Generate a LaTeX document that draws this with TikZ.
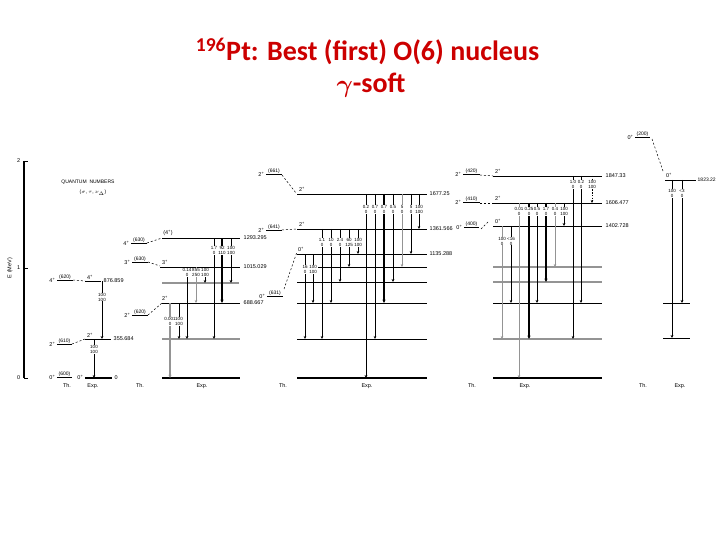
\documentclass[tikz,border=0pt]{standalone}
\usepackage{amsmath}
\usepackage{fontspec}
\setmainfont{Liberation Sans}
\newfontfamily\titlefont{Carlito}
\usetikzlibrary{arrows.meta}
\definecolor{titlered}{RGB}{204,0,0}
\definecolor{glev}{gray}{0.58}
\tikzset{
 lev/.style={line width=0.8pt},
 glevel/.style={line width=1.1pt, draw=glev},
 gsl/.style={line width=2pt},
 thl/.style={line width=0.6pt},
 dsh/.style={dash pattern=on 2pt off 2pt, line width=0.5pt},
 tA/.style={line width=0.5pt, -{Stealth[length=3pt,width=2.6pt]}},
 tB/.style={line width=0.8pt, -{Stealth[length=3pt,width=2.8pt]}},
 tC/.style={line width=1.3pt, -{Stealth[length=3.4pt,width=3.2pt]}},
 tG/.style={line width=0.6pt, draw=glev, -{Stealth[length=3pt,width=2.6pt]}},
 tGC/.style={line width=1.1pt, draw=glev, -{Stealth[length=3.2pt,width=3pt]}},
 tD/.style={line width=0.5pt, dash pattern=on 1.5pt off 1.2pt, -{Stealth[length=3pt,width=2.6pt]}},
 tlab/.style={font=\fontsize{4.5}{5}\selectfont, fill=white, inner sep=0.2pt, align=center},
 elab/.style={font=\fontsize{5.5}{6}\selectfont, anchor=west, inner sep=0.5pt},
 spin/.style={font=\fontsize{5.5}{6}\selectfont, inner sep=0.5pt},
 qnl/.style={font=\fontsize{5}{6}\selectfont, inner sep=0.6pt},
 capl/.style={font=\fontsize{5.5}{6}\selectfont, inner sep=0.5pt},
 ttl/.style={font=\titlefont\bfseries\fontsize{28}{34}\selectfont, text=titlered, anchor=base, inner sep=0pt},
}
\newcommand{\thlev}[6]{%
  \draw[thl] (#1,#3) -- (#2,#3);
  \node[qnl,anchor=south] (q#6) at ({(#1+#2)/2},#3) {#5};
  \node[spin,anchor=east] (s#6) at (#1-1,#3) {#4};}
\newcommand{\trn}[7]{%
  \draw[#4] (#1,#2) -- (#1,#3);
  \node[tlab] (l#1) at (#1,#5) {#6\\#7};}
\newcommand{\pl}{\textsuperscript{+}}
\begin{document}
\begin{tikzpicture}[x=1pt,y=-1pt]
\useasboundingbox (0,0) rectangle (720,540);
% title
\node[ttl] (title1) at (367.5,61) {\textsuperscript{196}Pt: Best (first) O(6) nucleus};
\node[ttl] (title2) at (371,93) {$\boldsymbol{\gamma}$-soft};
% axis
\draw[line width=2pt] (24,161) -- (24,378);
\foreach \yy/\tt in {161/2,268/1,378/0}{
  \draw[line width=0.8pt] (24,\yy) -- (28,\yy);
  \node[capl,anchor=east] (ax\tt) at (21,\yy) {\tt};}
\node[capl,rotate=90] (elabel) at (10,268) {E (MeV)};
\node[qnl] (qn1) at (88,182) {QUANTUM\ \ NUMBERS};
\node[qnl] (qn2) at (93,193) {($\sigma$, $\tau$, $\nu_\Delta$)};
% ---------------- column 1
\thlev{57}{73}{280}{4\pl}{(620)}{a1}
\draw[dsh] (73,280) -- (85,281);
\draw[lev] (85,281) -- (101,281);
\node[spin,anchor=south] (x1) at (90,280) {4\pl};
\node[elab] (e1) at (103,281) {876.859};
\thlev{57}{72}{344}{2\pl}{(610)}{a2}
\draw[dsh] (72,344) -- (85,339);
\draw[lev] (85,339) -- (111,339);
\node[spin,anchor=south] (x2) at (90,338) {2\pl};
\node[elab] (e2) at (113,339) {355.684};
\thlev{57}{72}{377}{0\pl}{(600)}{a3}
\node[spin,anchor=east] (x3) at (84,377) {0\pl};
\draw[gsl] (85,378) -- (112,378);
\node[elab] (e3) at (114,378) {0};
\trn{102}{281}{339}{tB}{297}{100}{100}
\trn{94}{339}{378}{tA}{349.5}{100}{100}
% ---------------- column 2
\thlev{131}{147}{243}{4\pl}{(630)}{b1}
\draw[dsh] (147,243) -- (162,238);
\draw[lev] (162,238) -- (240,238);
\node[spin,anchor=south] (x4) at (168,236) {(4\pl)};
\node[elab] (e4) at (243,238) {1293.295};
\thlev{132}{148}{262}{3\pl}{(630)}{b2}
\draw[dsh] (148,262) -- (160,266);
\draw[lev] (160,267) -- (240,267);
\node[spin,anchor=south] (x5) at (165,265) {3\pl};
\node[elab] (e5) at (243,267) {1015.029};
\draw[glevel] (162,283) -- (239,283);
\thlev{132}{148}{315}{2\pl}{(620)}{b3}
\draw[dsh] (148,315) -- (162,303);
\draw[lev] (162,303) -- (240,303);
\node[spin,anchor=south] (x6) at (165,301) {2\pl};
\node[elab] (e6) at (243,303) {688.667};
\draw[glevel] (162,339) -- (240,339);
\draw[gsl] (162,378) -- (240,378);
\trn{214}{238}{339}{tA}{250.5}{1.7}{0}
\trn{222}{238}{303}{tC}{250.5}{92}{110}
\trn{231}{238}{283}{tB}{250.5}{100}{100}
\trn{187}{267}{339}{tB}{272.5}{0.14}{0}
\trn{196}{267}{303}{tG}{272.5}{855}{250}
\trn{205}{267}{283}{tA}{272.5}{100}{100}
\trn{170}{303}{378}{tGC}{321.5}{0.001}{0}
\trn{179}{303}{339}{tA}{321.5}{100}{100}
% ---------------- column 3
\thlev{266}{282}{174}{2\pl}{(661)}{c1}
\draw[dsh] (282,175) -- (296,193);
\draw[lev] (297,194) -- (427,194);
\node[spin,anchor=south] (x7) at (302,192) {2\pl};
\node[elab] (e7) at (429,194) {1677.25};
\thlev{266}{282}{230}{2\pl}{(641)}{c2}
\draw[dsh] (282,230) -- (297,229);
\draw[lev] (297,229) -- (427,229);
\node[spin,anchor=south] (x8) at (302,227) {2\pl};
\node[elab] (e8) at (429,229) {1361.566};
\thlev{267}{283}{296}{0\pl}{(631)}{c3}
\draw[dsh] (284,289) -- (297,252);
\draw[lev] (297,254) -- (427,254);
\node[spin,anchor=south] (x9) at (301,252) {0\pl};
\node[elab] (e9) at (429,254) {1135.288};
\draw[lev] (318,267) -- (427,267);
\draw[lev] (297,282) -- (427,282);
\draw[lev] (297,303) -- (427,303);
\draw[lev] (297,339) -- (427,339);
\draw[gsl] (297,378) -- (427,378);
\trn{366}{194}{378}{tB}{209.5}{0.2}{0}
\trn{375}{194}{339}{tA}{209.5}{0.7}{0}
\trn{384}{194}{303}{tC}{209.5}{0.7}{0}
\trn{393}{194}{282}{tB}{209.5}{0.5}{0}
\trn{402}{194}{267}{tG}{209.5}{5}{0}
\trn{411}{194}{254}{tA}{209.5}{5}{0}
\trn{419}{194}{229}{tA}{209.5}{100}{100}
\trn{322}{229}{339}{tA}{242.5}{1.1}{0}
\trn{331}{229}{303}{tA}{242.5}{10}{0}
\trn{340}{229}{282}{tA}{242.5}{2.4}{0}
\trn{349}{229}{267}{tA}{242.5}{60}{125}
\trn{358}{229}{254}{tA}{242.5}{100}{100}
\trn{305}{254}{339}{tA}{269.5}{16}{0}
\trn{313}{254}{303}{tA}{269.5}{100}{100}
% ---------------- column 4
\thlev{463}{480}{174}{2\pl}{(420)}{d1}
\draw[dsh] (480,175) -- (493,176);
\draw[lev] (493,176) -- (602,176);
\node[spin,anchor=south] (x10) at (498,174) {2\pl};
\node[elab] (e10) at (605,176) {1847.33};
\thlev{463}{480}{202}{2\pl}{(410)}{d2}
\draw[dsh] (480,203) -- (493,203);
\draw[lev] (493,203) -- (602,203);
\node[spin,anchor=south] (x11) at (498,201) {2\pl};
\node[elab] (e11) at (605,203) {1606.477};
\thlev{464}{479}{227}{0\pl}{(400)}{d3}
\draw[dsh] (481,229) -- (488,222);
\draw[lev] (493,226) -- (602,226);
\node[spin,anchor=south] (x12) at (498,224) {0\pl};
\node[elab] (e12) at (605,226) {1402.728};
\draw[glevel] (493,267) -- (602,267);
\draw[glevel] (493,282) -- (602,282);
\draw[lev] (493,303) -- (602,303);
\draw[glevel] (493,339) -- (602,339);
\draw[gsl] (493,378) -- (602,378);
\trn{573}{176}{339}{tA}{184.5}{1.0}{0}
\trn{581}{176}{303}{tA}{184.5}{0.2}{0}
\trn{592}{176}{203}{tD}{184.5}{100}{100}
\trn{519}{203}{378}{tG}{211.5}{0.01}{0}
\trn{529}{203}{339}{tC}{211.5}{0.25}{0}
\trn{537}{203}{303}{tB}{211.5}{0.5}{0}
\trn{546}{203}{282}{tC}{211.5}{1.7}{0}
\trn{555}{203}{267}{tG}{211.5}{0.4}{0}
\trn{564}{203}{226}{tB}{211.5}{100}{100}
\trn{502}{226}{339}{tG}{241}{100}{0}
\trn{511}{226}{303}{tA}{241}{<16}{0}
% ---------------- column 5
\thlev{635}{650}{137}{0\pl}{(200)}{f1}
\draw[dsh] (652,139) -- (663,171);
\draw[lev] (665,180) -- (696,180);
\node[elab,font=\fontsize{5}{6}\selectfont] (e13) at (697,180) {1823.22};
\node[spin,anchor=south] (x13) at (669,178) {0\pl};
\draw[lev] (663,303) -- (690,303);
\draw[lev] (663,338) -- (690,338);
\trn{672}{180}{338}{tB}{193.5}{100}{0}
\trn{682}{180}{303}{tB}{193.5}{<3}{0}
% ---------------- captions
\foreach \xx/\tt/\nn in {67/Th./t1,93/Exp./t2,140/Th./t3,202/Exp./t4,283/Th./t5,367/Exp./t6,472/Th./t7,525/Exp./t8,643/Th./t9,680/Exp./t10}{
  \node[capl] (\nn) at (\xx,386) {\tt};}
\end{tikzpicture}
\end{document}
